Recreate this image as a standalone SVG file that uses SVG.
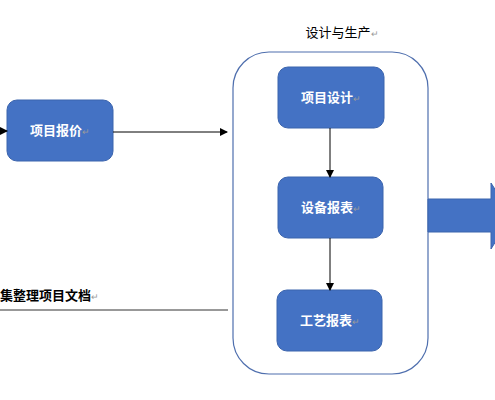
<svg xmlns="http://www.w3.org/2000/svg" width="495" height="400" viewBox="0 0 495 400">
<style>
.box{fill:#4472C4;stroke:#3B64AD;stroke-width:1}
.lbl{font-family:"Noto Sans CJK SC","Noto Sans",sans-serif;font-size:13px;font-weight:bold;fill:#fff;text-anchor:middle}
.ret{fill:#9a9a9a;font-weight:normal;font-size:9px}
.dark{font-family:"Noto Sans CJK SC","Noto Sans",sans-serif;font-size:13px;fill:#000}
.ln{stroke:#000;stroke-width:1;fill:none}
</style>
<defs>
<marker id="ah" markerWidth="8" markerHeight="8" refX="7" refY="4" orient="auto" markerUnits="userSpaceOnUse">
<path d="M0,0 L8,4 L0,8 Z" fill="#000"/>
</marker>
</defs>
<g id="container">
<rect x="233" y="52" width="195" height="322" rx="36" fill="none" stroke="#4F6FAE" stroke-width="1.2"/>
<text class="dark" x="342" y="37" text-anchor="middle">设计与生产<tspan class="ret">↵</tspan></text>
</g>
<g id="quote">
<rect class="box" x="7" y="100" width="106" height="61" rx="10"/>
<text class="lbl" x="60" y="135">项目报价<tspan class="ret">↵</tspan></text>
</g>
<g id="design">
<rect class="box" x="278" y="67" width="106" height="61" rx="10"/>
<text class="lbl" x="331" y="102">项目设计<tspan class="ret">↵</tspan></text>
</g>
<g id="equip">
<rect class="box" x="278" y="177" width="105" height="61" rx="10"/>
<text class="lbl" x="331" y="212">设备报表<tspan class="ret">↵</tspan></text>
</g>
<g id="craft">
<rect class="box" x="277" y="290" width="105" height="61" rx="10"/>
<text class="lbl" x="330" y="325">工艺报表<tspan class="ret">↵</tspan></text>
</g>
<g id="docs">
<text class="dark" x="0" y="300" font-weight="bold">集整理项目文档<tspan class="ret">↵</tspan></text>
</g>
<g id="connectors">
<line class="ln" x1="0" y1="131" x2="7" y2="131" marker-end="url(#ah)"/>
<line class="ln" x1="113" y1="132" x2="227" y2="132" marker-end="url(#ah)"/>
<line class="ln" x1="330" y1="128" x2="330" y2="177" marker-end="url(#ah)"/>
<line class="ln" x1="330" y1="238" x2="330" y2="290" marker-end="url(#ah)"/>
<line x1="0" y1="310" x2="228" y2="310" stroke="#333" stroke-width="1"/>
<path d="M428,199 L491,199 L491,183 L512,215.5 L491,249 L491,232 L428,232 Z" fill="#4472C4" stroke="#3B64AD" stroke-width="1"/>
</g>
</svg>
